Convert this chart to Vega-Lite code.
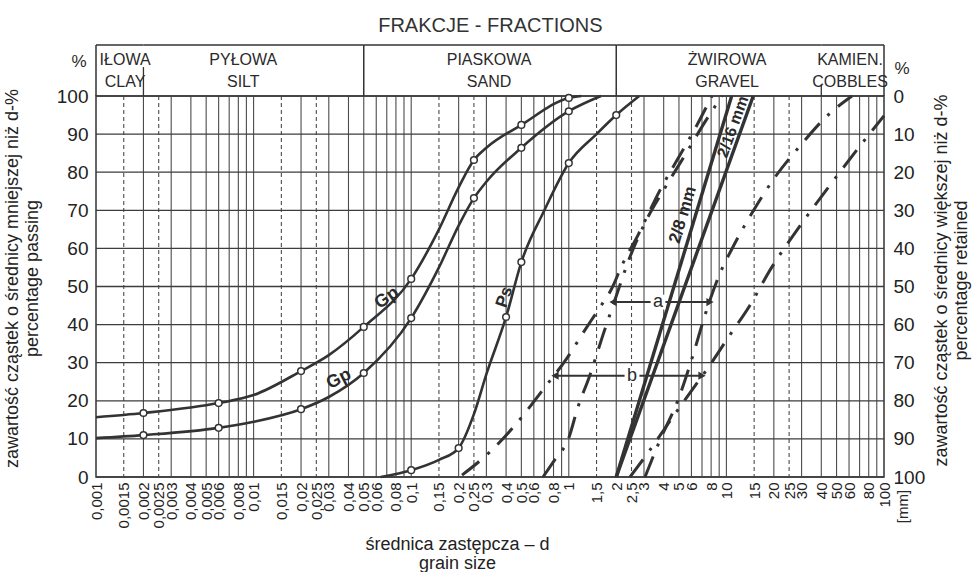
{
  "$schema": "https://vega.github.io/schema/vega-lite/v6.json",
  "width": 788,
  "height": 381,
  "autosize": {"type": "none"},
  "padding": {"left": 96, "top": 96, "right": 88, "bottom": 95},
  "background": "#ffffff",
  "config": {
    "font": "Liberation Sans",
    "view": {"stroke": "#333333", "strokeWidth": 1.5},
    "axis": {"labelColor": "#222222", "titleColor": "#222222", "labelFont": "Liberation Sans", "titleFont": "Liberation Sans", "titleFontWeight": "normal"},
    "text": {"font": "Liberation Sans", "color": "#2a2a2a"}
  },
  "datasets": {
    "vgrid": [
      {"d": 0.0015, "k": "dashed"}, {"d": 0.002, "k": "solid"}, {"d": 0.0025, "k": "dashed"}, {"d": 0.003, "k": "solid"}, {"d": 0.004, "k": "solid"}, {"d": 0.005, "k": "solid"}, {"d": 0.006, "k": "solid"}, {"d": 0.007, "k": "solid"}, {"d": 0.008, "k": "solid"}, {"d": 0.009, "k": "solid"},
      {"d": 0.01, "k": "solid"}, {"d": 0.015, "k": "dashed"}, {"d": 0.02, "k": "solid"}, {"d": 0.025, "k": "dashed"}, {"d": 0.03, "k": "solid"}, {"d": 0.04, "k": "solid"}, {"d": 0.05, "k": "solid"}, {"d": 0.06, "k": "solid"}, {"d": 0.07, "k": "solid"}, {"d": 0.08, "k": "solid"}, {"d": 0.09, "k": "solid"},
      {"d": 0.1, "k": "solid"}, {"d": 0.15, "k": "dashed"}, {"d": 0.2, "k": "solid"}, {"d": 0.25, "k": "dashed"}, {"d": 0.3, "k": "solid"}, {"d": 0.4, "k": "solid"}, {"d": 0.5, "k": "solid"}, {"d": 0.6, "k": "solid"}, {"d": 0.7, "k": "solid"}, {"d": 0.8, "k": "solid"}, {"d": 0.9, "k": "solid"},
      {"d": 1, "k": "solid"}, {"d": 1.5, "k": "dashed"}, {"d": 2, "k": "solid"}, {"d": 2.5, "k": "dashed"}, {"d": 3, "k": "solid"}, {"d": 4, "k": "solid"}, {"d": 5, "k": "solid"}, {"d": 6, "k": "solid"}, {"d": 7, "k": "solid"}, {"d": 8, "k": "solid"}, {"d": 9, "k": "solid"},
      {"d": 10, "k": "solid"}, {"d": 15, "k": "dashed"}, {"d": 20, "k": "solid"}, {"d": 25, "k": "dashed"}, {"d": 30, "k": "solid"}, {"d": 40, "k": "solid"}, {"d": 50, "k": "solid"}, {"d": 60, "k": "solid"}, {"d": 70, "k": "solid"}, {"d": 80, "k": "solid"}, {"d": 90, "k": "solid"}
    ],
    "hgrid": [{"p": 0}, {"p": 10}, {"p": 20}, {"p": 30}, {"p": 40}, {"p": 50}, {"p": 60}, {"p": 70}, {"p": 80}, {"p": 90}, {"p": 100}],
    "fractions": [
      {"pl": "IŁOWA", "en": "CLAY", "from": 0.001, "to": 0.002, "at": 0.00153},
      {"pl": "PYŁOWA", "en": "SILT", "from": 0.002, "to": 0.05, "at": 0.0086},
      {"pl": "PIASKOWA", "en": "SAND", "from": 0.05, "to": 2, "at": 0.312},
      {"pl": "ŻWIROWA", "en": "GRAVEL", "from": 2, "to": 40, "at": 10.1},
      {"pl": "KAMIEN.", "en": "COBBLES", "from": 40, "to": 100, "at": 60.9}
    ],
    "heading": [{"t": "FRAKCJE - FRACTIONS", "at": 0.318}],
    "curves": [
      {"s": "Gp1", "d": 0.001, "p": 15.7, "m": "no"}, {"s": "Gp1", "d": 0.002, "p": 16.8, "m": "yes"}, {"s": "Gp1", "d": 0.006, "p": 19.4, "m": "yes"}, {"s": "Gp1", "d": 0.01, "p": 21.5, "m": "no"}, {"s": "Gp1", "d": 0.02, "p": 27.8, "m": "yes"}, {"s": "Gp1", "d": 0.03, "p": 32, "m": "no"}, {"s": "Gp1", "d": 0.05, "p": 39.4, "m": "yes"}, {"s": "Gp1", "d": 0.1, "p": 52, "m": "yes"}, {"s": "Gp1", "d": 0.15, "p": 65, "m": "no"}, {"s": "Gp1", "d": 0.2, "p": 76, "m": "no"}, {"s": "Gp1", "d": 0.25, "p": 83.2, "m": "yes"}, {"s": "Gp1", "d": 0.3, "p": 86.4, "m": "no"}, {"s": "Gp1", "d": 0.5, "p": 92.4, "m": "yes"}, {"s": "Gp1", "d": 1, "p": 99.5, "m": "yes"}, {"s": "Gp1", "d": 1.2, "p": 100, "m": "no"},
      {"s": "Gp2", "d": 0.001, "p": 10.2, "m": "no"}, {"s": "Gp2", "d": 0.002, "p": 11, "m": "yes"}, {"s": "Gp2", "d": 0.006, "p": 12.9, "m": "yes"}, {"s": "Gp2", "d": 0.01, "p": 14.5, "m": "no"}, {"s": "Gp2", "d": 0.02, "p": 17.8, "m": "yes"}, {"s": "Gp2", "d": 0.03, "p": 21, "m": "no"}, {"s": "Gp2", "d": 0.05, "p": 27.3, "m": "yes"}, {"s": "Gp2", "d": 0.1, "p": 41.7, "m": "yes"}, {"s": "Gp2", "d": 0.15, "p": 55, "m": "no"}, {"s": "Gp2", "d": 0.2, "p": 66, "m": "no"}, {"s": "Gp2", "d": 0.25, "p": 73.2, "m": "yes"}, {"s": "Gp2", "d": 0.3, "p": 77.5, "m": "no"}, {"s": "Gp2", "d": 0.5, "p": 86.4, "m": "yes"}, {"s": "Gp2", "d": 1, "p": 96, "m": "yes"}, {"s": "Gp2", "d": 1.6, "p": 100, "m": "no"},
      {"s": "Ps", "d": 0.064, "p": 0, "m": "no"}, {"s": "Ps", "d": 0.1, "p": 1.8, "m": "yes"}, {"s": "Ps", "d": 0.15, "p": 4.5, "m": "no"}, {"s": "Ps", "d": 0.2, "p": 7.6, "m": "yes"}, {"s": "Ps", "d": 0.25, "p": 16.5, "m": "no"}, {"s": "Ps", "d": 0.3, "p": 27, "m": "no"}, {"s": "Ps", "d": 0.4, "p": 42, "m": "yes"}, {"s": "Ps", "d": 0.5, "p": 56.4, "m": "yes"}, {"s": "Ps", "d": 0.7, "p": 70, "m": "no"}, {"s": "Ps", "d": 1, "p": 82.4, "m": "yes"}, {"s": "Ps", "d": 1.5, "p": 90, "m": "no"}, {"s": "Ps", "d": 2, "p": 95, "m": "yes"}, {"s": "Ps", "d": 2.8, "p": 100, "m": "no"}
    ],
    "lines": [
      {"s": "2/8", "d": 2, "p": 0}, {"s": "2/8", "d": 10.8, "p": 100},
      {"s": "2/16", "d": 2, "p": 0}, {"s": "2/16", "d": 14.8, "p": 100}
    ],
    "env": [
      {"s": "L1", "d": 0.2101, "p": 0.5}, {"s": "L1", "d": 0.3162, "p": 6.6}, {"s": "L1", "d": 0.4558, "p": 13.6}, {"s": "L1", "d": 0.7063, "p": 23.6}, {"s": "L1", "d": 0.974, "p": 31.2}, {"s": "L1", "d": 1.231, "p": 37.8}, {"s": "L1", "d": 1.532, "p": 43.8}, {"s": "L1", "d": 1.88, "p": 49.6}, {"s": "L1", "d": 2.176, "p": 55.6}, {"s": "L1", "d": 2.749, "p": 63.5}, {"s": "L1", "d": 3.791, "p": 75.3}, {"s": "L1", "d": 5.077, "p": 84.5}, {"s": "L1", "d": 6.509, "p": 92.4}, {"s": "L1", "d": 8.1, "p": 100},
      {"s": "L2", "d": 0.686, "p": 0}, {"s": "L2", "d": 0.8295, "p": 5}, {"s": "L2", "d": 0.9883, "p": 9.7}, {"s": "L2", "d": 1.144, "p": 18.4}, {"s": "L2", "d": 1.363, "p": 26.8}, {"s": "L2", "d": 1.648, "p": 37.3}, {"s": "L2", "d": 1.964, "p": 46.5}, {"s": "L2", "d": 2.374, "p": 56.4}, {"s": "L2", "d": 3.044, "p": 66.7}, {"s": "L2", "d": 4.077, "p": 75.9}, {"s": "L2", "d": 5.462, "p": 84.5}, {"s": "L2", "d": 7.315, "p": 93.2}, {"s": "L2", "d": 9.378, "p": 100},
      {"s": "L3", "d": 3.044, "p": 0}, {"s": "L3", "d": 3.791, "p": 9.7}, {"s": "L3", "d": 4.931, "p": 20.2}, {"s": "L3", "d": 6.14, "p": 32}, {"s": "L3", "d": 7.315, "p": 42.5}, {"s": "L3", "d": 8.846, "p": 52.2}, {"s": "L3", "d": 11.34, "p": 61.4}, {"s": "L3", "d": 15.19, "p": 70.6}, {"s": "L3", "d": 20.34, "p": 78.7}, {"s": "L3", "d": 29.31, "p": 86.9}, {"s": "L3", "d": 44.13, "p": 95}, {"s": "L3", "d": 62.66, "p": 100},
      {"s": "L4", "d": 2.445, "p": 0}, {"s": "L4", "d": 3.275, "p": 7.1}, {"s": "L4", "d": 4.387, "p": 14.7}, {"s": "L4", "d": 5.875, "p": 22.1}, {"s": "L4", "d": 7.867, "p": 29.4}, {"s": "L4", "d": 10.54, "p": 37.3}, {"s": "L4", "d": 14.12, "p": 45.1}, {"s": "L4", "d": 18.91, "p": 54.3}, {"s": "L4", "d": 29.31, "p": 65.9}, {"s": "L4", "d": 45.44, "p": 76.6}, {"s": "L4", "d": 70.42, "p": 86.9}, {"s": "L4", "d": 100, "p": 94.8}
    ],
    "arrows": [
      {"a": "a", "from": 1.908, "to": 7.867, "at": 3.68, "p": 45.9},
      {"a": "b", "from": 0.8173, "to": 7.0, "at": 2.518, "p": 26.6}
    ],
    "labels": [
      {"k": "Gp1", "t": "Gp", "d": 0.07, "p": 47},
      {"k": "Gp2", "t": "Gp", "d": 0.0348, "p": 25.7},
      {"k": "Ps", "t": "Ps", "d": 0.39, "p": 47.2},
      {"k": "28", "t": "2/8 mm", "d": 5.3, "p": 68.8},
      {"k": "216", "t": "2/16 mm", "d": 11.0, "p": 91.9}
    ]
  },
  "layer": [
    {
      "layer": [
        {
          "data": {"name": "vgrid"},
          "mark": {"type": "rule", "color": "#4d4d4d", "strokeWidth": 1.1},
          "encoding": {
            "x": {"field": "d", "type": "quantitative", "scale": {"type": "log", "domain": [0.001, 100], "nice": false},
              "axis": {"orient": "bottom", "values": [0.001, 0.0015, 0.002, 0.0025, 0.003, 0.004, 0.005, 0.006, 0.008, 0.01, 0.015, 0.02, 0.025, 0.03, 0.04, 0.05, 0.06, 0.08, 0.1, 0.15, 0.2, 0.25, 0.3, 0.4, 0.5, 0.6, 0.8, 1, 1.5, 2, 2.5, 3, 4, 5, 6, 8, 10, 15, 20, 25, 30, 40, 50, 60, 80, 100],
                "labelExpr": "replace(toString(datum.value), '.', ',')", "labelAngle": -90, "labelFontSize": 15, "labelPadding": 5, "labelOverlap": false, "labelFlush": false, "labelBound": false, "ticks": false, "domain": false, "grid": false,
                "title": ["średnica zastępcza – d", "grain size"], "titleFontSize": 18, "titleX": 361, "titleY": 58, "titleAlign": "center", "titleBaseline": "top", "titleLineHeight": 19}},
            "strokeDash": {"field": "k", "type": "nominal", "scale": {"domain": ["solid", "dashed"], "range": [[1, 0], [4, 3]]}, "legend": null}
          }
        },
        {
          "data": {"name": "hgrid"},
          "mark": {"type": "rule", "color": "#3d3d3d", "strokeWidth": 1.3},
          "encoding": {
            "y": {"field": "p", "type": "quantitative", "scale": {"domain": [0, 100], "nice": false},
              "axis": {"orient": "left", "values": [0, 10, 20, 30, 40, 50, 60, 70, 80, 90, 100], "tickCount": 11, "labelFontSize": 19, "labelPadding": 8, "labelFlush": false, "labelOverlap": false, "labelSeparation": 0, "ticks": false, "domain": false, "grid": false,
                "title": ["zawartość cząstek o średnicy mniejszej niż d-%", "percentage passing"], "titleFontSize": 18, "titleAngle": 270, "titleX": -93, "titleY": 182, "titleAlign": "center", "titleBaseline": "top", "titleLineHeight": 20}}
          }
        },
        {
          "data": {"name": "heading"},
          "mark": {"type": "text", "fontSize": 20, "baseline": "alphabetic", "align": "center", "color": "#333333"},
          "encoding": {
            "x": {"field": "at", "type": "quantitative"},
            "y": {"datum": 116.8, "type": "quantitative"},
            "text": {"field": "t"}
          }
        },
        {
          "data": {"name": "fractions"},
          "mark": {"type": "rule", "color": "#333333", "strokeWidth": 1.5},
          "encoding": {
            "x": {"field": "from", "type": "quantitative"},
            "x2": {"field": "to"},
            "y": {"datum": 113.4, "type": "quantitative"}
          }
        },
        {
          "data": {"name": "fractions"},
          "transform": [{"filter": "datum.from == 0.001 || datum.from == 0.05 || datum.from == 2"}],
          "mark": {"type": "rule", "color": "#333333", "strokeWidth": 1.5},
          "encoding": {
            "x": {"field": "from", "type": "quantitative"},
            "y": {"datum": 100, "type": "quantitative"},
            "y2": {"datum": 113.4}
          }
        },
        {
          "data": {"name": "fractions"},
          "transform": [{"filter": "datum.to == 100"}],
          "mark": {"type": "rule", "color": "#333333", "strokeWidth": 1.5},
          "encoding": {
            "x": {"field": "to", "type": "quantitative"},
            "y": {"datum": 100, "type": "quantitative"},
            "y2": {"datum": 113.4}
          }
        },
        {
          "data": {"name": "fractions"},
          "transform": [{"filter": "datum.from == 0.002"}],
          "mark": {"type": "rule", "color": "#333333", "strokeWidth": 1.3},
          "encoding": {
            "x": {"field": "from", "type": "quantitative"},
            "y": {"datum": 100, "type": "quantitative"},
            "y2": {"datum": 107.6}
          }
        },
        {
          "data": {"name": "fractions"},
          "transform": [{"filter": "datum.from == 40"}],
          "mark": {"type": "rule", "color": "#333333", "strokeWidth": 1.3},
          "encoding": {
            "x": {"field": "from", "type": "quantitative"},
            "y": {"datum": 100, "type": "quantitative"},
            "y2": {"datum": 103}
          }
        },
        {
          "data": {"name": "fractions"},
          "mark": {"type": "text", "fontSize": 16, "baseline": "middle", "align": "center", "color": "#2a2a2a"},
          "encoding": {
            "x": {"field": "at", "type": "quantitative"},
            "y": {"datum": 109.4, "type": "quantitative"},
            "text": {"field": "pl"}
          }
        },
        {
          "data": {"name": "fractions"},
          "mark": {"type": "text", "fontSize": 16, "baseline": "middle", "align": "center", "color": "#2a2a2a"},
          "encoding": {
            "x": {"field": "at", "type": "quantitative"},
            "y": {"datum": 103.7, "type": "quantitative"},
            "text": {"field": "en"}
          }
        },
        {
          "data": {"values": [{}]},
          "mark": {"type": "text", "text": "%", "fontSize": 17, "baseline": "middle", "align": "center", "color": "#2a2a2a"},
          "encoding": {
            "x": {"datum": 0.00078, "type": "quantitative"},
            "y": {"datum": 108.9, "type": "quantitative"}
          }
        },
        {
          "data": {"values": [{}]},
          "mark": {"type": "text", "text": "%", "fontSize": 17, "baseline": "middle", "align": "center", "color": "#2a2a2a"},
          "encoding": {
            "x": {"datum": 130, "type": "quantitative"},
            "y": {"datum": 107.1, "type": "quantitative"}
          }
        },
        {
          "data": {"values": [{}]},
          "mark": {"type": "text", "text": "[mm]", "fontSize": 15, "angle": 270, "baseline": "middle", "align": "right", "color": "#2a2a2a"},
          "encoding": {
            "x": {"datum": 132, "type": "quantitative"},
            "y": {"datum": -3.4, "type": "quantitative"}
          }
        },
        {
          "data": {"name": "curves"},
          "mark": {"type": "line", "color": "#333333", "strokeWidth": 2.6, "interpolate": "monotone"},
          "encoding": {
            "x": {"field": "d", "type": "quantitative"},
            "y": {"field": "p", "type": "quantitative"},
            "detail": {"field": "s"}
          }
        },
        {
          "data": {"name": "lines"},
          "mark": {"type": "line", "color": "#333333", "strokeWidth": 3.4},
          "encoding": {
            "x": {"field": "d", "type": "quantitative"},
            "y": {"field": "p", "type": "quantitative"},
            "detail": {"field": "s"}
          }
        },
        {
          "data": {"name": "env"},
          "mark": {"type": "line", "color": "#333333", "strokeWidth": 3, "interpolate": "monotone", "strokeDash": [22, 11, 3, 11]},
          "encoding": {
            "x": {"field": "d", "type": "quantitative"},
            "y": {"field": "p", "type": "quantitative"},
            "detail": {"field": "s"}
          }
        },
        {
          "data": {"name": "curves"},
          "transform": [{"filter": "datum.m == 'yes'"}],
          "mark": {"type": "circle", "fill": "#ffffff", "stroke": "#333333", "strokeWidth": 1.5, "size": 45, "opacity": 1},
          "encoding": {
            "x": {"field": "d", "type": "quantitative"},
            "y": {"field": "p", "type": "quantitative"}
          }
        },
        {
          "data": {"name": "arrows"},
          "mark": {"type": "rule", "color": "#333333", "strokeWidth": 2},
          "encoding": {
            "x": {"field": "from", "type": "quantitative"},
            "x2": {"field": "to"},
            "y": {"field": "p", "type": "quantitative"}
          }
        },
        {
          "data": {"name": "arrows"},
          "mark": {"type": "square", "color": "#ffffff", "size": 220, "opacity": 1},
          "encoding": {
            "x": {"field": "at", "type": "quantitative"},
            "y": {"field": "p", "type": "quantitative"}
          }
        },
        {
          "data": {"name": "arrows"},
          "mark": {"type": "text", "fontSize": 18, "baseline": "middle", "align": "center", "color": "#2a2a2a"},
          "encoding": {
            "x": {"field": "at", "type": "quantitative"},
            "y": {"field": "p", "type": "quantitative"},
            "text": {"field": "a"}
          }
        },
        {
          "data": {"name": "arrows"},
          "mark": {"type": "point", "shape": "triangle-left", "filled": true, "color": "#333333", "size": 70, "opacity": 1},
          "encoding": {
            "x": {"field": "from", "type": "quantitative"},
            "y": {"field": "p", "type": "quantitative"}
          }
        },
        {
          "data": {"name": "arrows"},
          "mark": {"type": "point", "shape": "triangle-right", "filled": true, "color": "#333333", "size": 70, "opacity": 1},
          "encoding": {
            "x": {"field": "to", "type": "quantitative"},
            "y": {"field": "p", "type": "quantitative"}
          }
        },
        {
          "data": {"name": "labels"},
          "transform": [{"filter": "datum.k == 'Gp1'"}],
          "mark": {"type": "text", "angle": 325, "fontSize": 18, "fontWeight": "bold", "baseline": "middle", "align": "center", "color": "#2a2a2a"},
          "encoding": {
            "x": {"field": "d", "type": "quantitative"},
            "y": {"field": "p", "type": "quantitative"},
            "text": {"field": "t"}
          }
        },
        {
          "data": {"name": "labels"},
          "transform": [{"filter": "datum.k == 'Gp2'"}],
          "mark": {"type": "text", "angle": 333, "fontSize": 18, "fontWeight": "bold", "baseline": "middle", "align": "center", "color": "#2a2a2a"},
          "encoding": {
            "x": {"field": "d", "type": "quantitative"},
            "y": {"field": "p", "type": "quantitative"},
            "text": {"field": "t"}
          }
        },
        {
          "data": {"name": "labels"},
          "transform": [{"filter": "datum.k == 'Ps'"}],
          "mark": {"type": "text", "angle": 288, "fontSize": 17, "fontWeight": "bold", "baseline": "middle", "align": "center", "color": "#2a2a2a"},
          "encoding": {
            "x": {"field": "d", "type": "quantitative"},
            "y": {"field": "p", "type": "quantitative"},
            "text": {"field": "t"}
          }
        },
        {
          "data": {"name": "labels"},
          "transform": [{"filter": "datum.k == '28'"}],
          "mark": {"type": "text", "angle": 287, "fontSize": 17, "fontWeight": "bold", "baseline": "middle", "align": "center", "color": "#2a2a2a"},
          "encoding": {
            "x": {"field": "d", "type": "quantitative"},
            "y": {"field": "p", "type": "quantitative"},
            "text": {"field": "t"}
          }
        },
        {
          "data": {"name": "labels"},
          "transform": [{"filter": "datum.k == '216'"}],
          "mark": {"type": "text", "angle": 290, "fontSize": 16, "fontWeight": "bold", "baseline": "middle", "align": "center", "color": "#2a2a2a"},
          "encoding": {
            "x": {"field": "d", "type": "quantitative"},
            "y": {"field": "p", "type": "quantitative"},
            "text": {"field": "t"}
          }
        }
      ]
    },
    {
      "data": {"name": "hgrid"},
      "mark": {"type": "rule", "opacity": 0},
      "encoding": {
        "y": {"field": "p", "type": "quantitative", "scale": {"domain": [0, 100], "nice": false},
          "axis": {"orient": "right", "values": [0, 10, 20, 30, 40, 50, 60, 70, 80, 90, 100], "labelExpr": "toString(100 - datum.value)", "labelFontSize": 19, "labelPadding": 9, "labelFlush": false, "labelOverlap": false, "labelBaseline": "middle", "ticks": false, "domain": false, "grid": false,
            "title": ["zawartość cząstek o średnicy większej niż d-%", "percentage retained"], "titleFontSize": 18, "titleAngle": 270, "titleX": 48, "titleY": 184, "titleAlign": "center", "titleBaseline": "top", "titleLineHeight": 20}}
      }
    }
  ],
  "resolve": {"scale": {"y": "independent"}}
}
